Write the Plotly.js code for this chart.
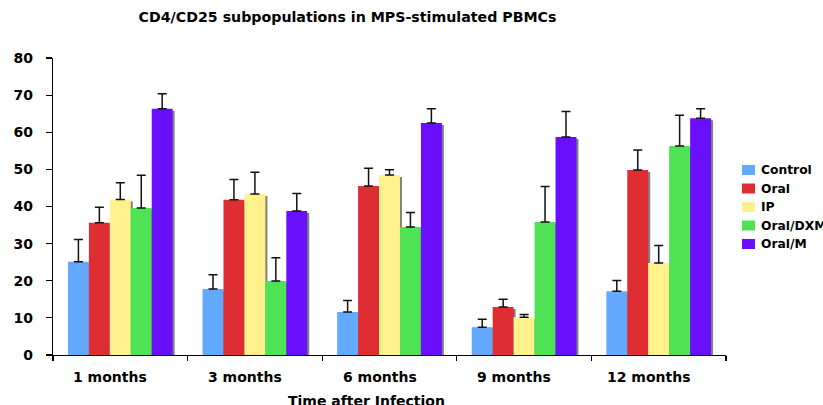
<!DOCTYPE html>
<html>
<head>
<meta charset="utf-8">
<script src="https://cdn.plot.ly/plotly-3.0.1.min.js"></script>
<style>html,body{margin:0;padding:0;background:#fff;}#chart{width:823px;height:405px;}</style>
</head>
<body>
<div id="chart"></div>
<script>
// ---- data ----
const categories = ["1 months", "3 months", "6 months", "9 months", "12 months"];
const seriesNames = ["Control", "Oral", "IP", "Oral/DXM", "Oral/M"];
const control   = [25.1, 17.8, 11.6, 7.5, 17.2];
const oral      = [35.6, 41.8, 45.5, 12.9, 49.8];
const ip        = [41.9, 43.4, 48.5, 10.2, 24.8];
const oralDXM   = [39.6, 19.9, 34.5, 35.8, 56.3];
const oralM     = [66.3, 38.8, 62.5, 58.7, 63.8];
const errControl = [6.0, 3.8, 3.1, 2.1, 2.9];
const errOral    = [4.2, 5.5, 4.8, 2.1, 5.4];
const errIP      = [4.5, 5.8, 1.4, 0.7, 4.7];
const errOralDXM = [8.8, 6.3, 3.9, 9.6, 8.3];
const errOralM   = [4.1, 4.7, 3.8, 6.9, 2.5];
const yTickVals = [0, 10, 20, 30, 40, 50, 60, 70, 80];
const titleText = "CD4/CD25 subpopulations in MPS-stimulated PBMCs";
const xTitleText = "Time after Infection";

// ---- styling ----
const values = [control, oral, ip, oralDXM, oralM];
const errors = [errControl, errOral, errIP, errOralDXM, errOralM];
const colors = ["#63a9ff", "#de2d33", "#fff28c", "#4ee254", "#6a0ffb"];
const W = 823, H = 405;
const M = {l: 53, r: 97, t: 58, b: 50};
const plotW = W - M.l - M.r, plotH = H - M.t - M.b;
const barW = 0.1556, start = -0.389;
const yRange = [0, 80];
const pxPerUnitY = plotH / (yRange[1] - yRange[0]);
const shadowDx = 2 / plotW * categories.length; // 2px in category units
const shadowDy = 2 / pxPerUnitY;                // 2px in data units
const font = "DejaVu Sans, Verdana, sans-serif";

const traces = [];
// shadows first
values.forEach((v, i) => {
  traces.push({
    type: "bar", x: categories, y: v.map(d => d - shadowDy),
    width: barW, offset: start + i * barW + shadowDx,
    marker: {color: "#808080", line: {width: 0}},
    showlegend: false, hoverinfo: "skip"
  });
});
values.forEach((v, i) => {
  traces.push({
    type: "bar", name: seriesNames[i], x: categories, y: v,
    width: barW, offset: start + i * barW,
    marker: {color: colors[i], line: {width: 0}},
    error_y: {type: "data", array: errors[i], symmetric: false, arrayminus: errors[i].map(() => 0),
              color: "#111", thickness: 1.5, width: 4.5},
    showlegend: false
  });
});

function pxX(x) { return (x - M.l) / plotW; }
function pxY(y) { return 1 - (y - M.t) / plotH; }

// manual legend
const shapes = [], annotations = [];
const legendRowsY = [170, 188.5, 207, 225.5, 244];
seriesNames.forEach((n, i) => {
  const yc = legendRowsY[i];
  shapes.push({type: "rect", xref: "paper", yref: "paper",
    x0: pxX(742), x1: pxX(755), y0: pxY(yc + 5), y1: pxY(yc - 5),
    fillcolor: colors[i], line: {width: 0}});
  annotations.push({xref: "paper", yref: "paper", x: pxX(759), y: pxY(yc),
    xanchor: "left", yanchor: "middle", showarrow: false, text: "<b>" + n + "</b>",
    font: {family: font, size: 12.3, color: "#000"}});
});
// category labels (slightly left of centre, as in the reference)
categories.forEach(c => {
  annotations.push({xref: "x", yref: "paper", x: c, y: pxY(377), xshift: -10,
    xanchor: "center", yanchor: "middle", showarrow: false, text: "<b>" + c + "</b>",
    font: {family: font, size: 14, color: "#000"}});
});
// x axis title
annotations.push({xref: "paper", yref: "paper", x: pxX(366), y: pxY(401),
  xanchor: "center", yanchor: "middle", showarrow: false, text: "<b>" + xTitleText + "</b>",
  font: {family: font, size: 14, color: "#000"}});

const layout = {
  width: W, height: H,
  margin: M,
  paper_bgcolor: "#fff", plot_bgcolor: "#fff",
  barmode: "overlay",
  showlegend: false,
  title: {text: "<b>" + titleText + "</b>",
          x: 347.5 / W, xref: "container", xanchor: "center",
          y: 1 - 17.5 / H, yref: "container", yanchor: "middle",
          font: {family: font, size: 14.2, color: "#000"}},
  xaxis: {
    type: "category", tickson: "boundaries", ticks: "outside", ticklen: 5, tickwidth: 1.2, tickcolor: "#000",
    showline: true, linecolor: "#000", linewidth: 1.2, showgrid: false, zeroline: false,
    showticklabels: false,
    automargin: false, fixedrange: true
  },
  yaxis: {
    range: yRange, tickvals: yTickVals, ticks: "outside", ticklen: 6, tickwidth: 1.2, tickcolor: "#000",
    showline: true, linecolor: "#000", linewidth: 1.2, showgrid: false, zeroline: false,
    tickfont: {family: font, size: 14, color: "#000", weight: "bold"},
    ticklabelstandoff: 10,
    automargin: false, fixedrange: true
  },
  shapes: shapes,
  annotations: annotations
};

Plotly.newPlot("chart", traces, layout, {displayModeBar: false, staticPlot: true});
</script>
</body>
</html>
